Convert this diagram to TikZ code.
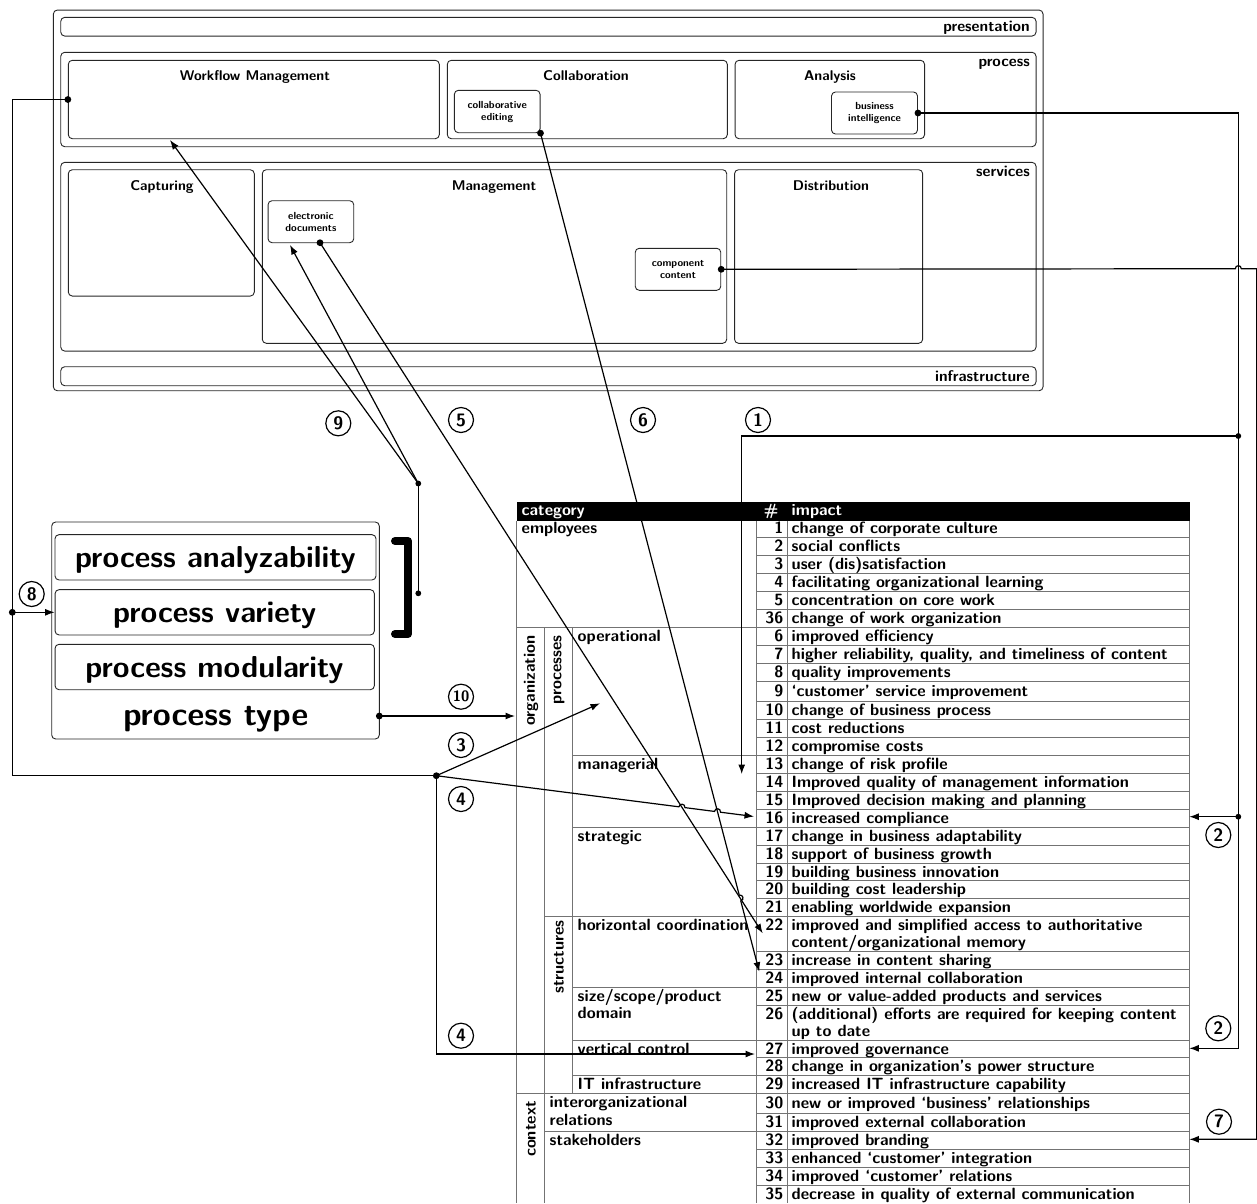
\documentclass[tikz,border=0pt]{standalone}
\usepackage{fontspec}
\usetikzlibrary{arrows.meta}
\newcommand\mytab{\fontsize{16.3}{17.5}\selectfont\sffamily\bfseries}
\newcommand\mysmall{\fontsize{10.3}{12}\selectfont\sffamily\bfseries}
\newcommand\mytitle{\fontsize{14.1}{16}\selectfont\sffamily\bfseries}
\newcommand\mylayer{\fontsize{15.4}{17}\selectfont\sffamily\bfseries}
\newcommand\mybig{\fontsize{30.3}{32}\selectfont\sffamily\bfseries}
\newcommand\myhuge{\fontsize{32.6}{34}\selectfont\sffamily\bfseries}
\begin{document}
\begin{tikzpicture}[x=1pt,y=-1pt,
 box/.style={draw=black!85, line width=0.9pt, rounded corners=4pt, inner sep=0pt},
 conn/.style={line width=1.2pt},
 arr/.style={line width=1.2pt, -{Latex[length=9.5pt,width=7pt]}},
 dotn/.style={circle, fill=black, inner sep=0pt, minimum size=6.8pt},
 numc/.style={circle, draw, line width=1.2pt, minimum size=25pt, inner sep=0pt, font=\fontsize{18}{18}\selectfont\sffamily\bfseries},
 tl/.style={draw=black!55, line width=0.8pt},
 tt/.style={inner sep=0pt, font=\mytab},
 smallbox/.style={box, minimum width=86pt, minimum height=42pt, align=center, font=\mysmall},
]
\useasboundingbox (0,0) rectangle (1257,1203);

% ---------------- architecture ----------------
\node[box, minimum width=989.7pt, minimum height=380.7pt] (outer) at (548.2,200.4) {};
\node[box, minimum width=975.3pt, minimum height=18.7pt] (pres) at (548.4,26.7) {};
\node[box, minimum width=975.3pt, minimum height=94.4pt] (proc) at (548.4,99.5) {};
\node[box, minimum width=975.3pt, minimum height=188.7pt] (serv) at (548.4,256.7) {};
\node[box, minimum width=975.3pt, minimum height=19pt] (infra) at (548.4,376.2) {};
\node[inner sep=0pt, anchor=base east, font=\mylayer] (lpres) at (1030,31) {presentation};
\node[inner sep=0pt, anchor=base east, font=\mylayer] (lproc) at (1030,66.3) {process};
\node[inner sep=0pt, anchor=base east, font=\mylayer] (lserv) at (1030,176.3) {services};
\node[inner sep=0pt, anchor=base east, font=\mylayer] (linfra) at (1030,381) {infrastructure};

\node[box, minimum width=371pt, minimum height=78.4pt] (wm) at (253.8,99.5) {};
\node[box, minimum width=280pt, minimum height=78.4pt] (collab) at (587.3,99.5) {};
\node[box, minimum width=189.5pt, minimum height=78.4pt] (anal) at (829.8,99.5) {};
\node[inner sep=0pt, anchor=base, font=\mytitle] (twm) at (255,80.5) {Workflow Management};
\node[inner sep=0pt, anchor=base, font=\mytitle] (tcol) at (586,80.5) {Collaboration};
\node[inner sep=0pt, anchor=base, font=\mytitle] (tana) at (830,80.5) {Analysis};
\node[smallbox, minimum width=85.7pt, minimum height=42.4pt] (ce) at (497.2,111.5) {collaborative\\editing};
\node[smallbox] (bi) at (874.5,113) {business\\intelligence};

\node[box, minimum width=186pt, minimum height=126.3pt] (capt) at (161.3,232.9) {};
\node[box, minimum width=464.4pt, minimum height=173.6pt] (mgmt) at (494.5,256.5) {};
\node[box, minimum width=188.1pt, minimum height=173.6pt] (dist) at (828.6,256.5) {};
\node[inner sep=0pt, anchor=base, font=\mytitle] (tcap) at (162,190) {Capturing};
\node[inner sep=0pt, anchor=base, font=\mytitle] (tmg) at (494,190) {Management};
\node[inner sep=0pt, anchor=base, font=\mytitle] (tdi) at (831,190) {Distribution};
\node[smallbox, minimum width=85.7pt] (ed) at (310.9,221.7) {electronic\\documents};
\node[smallbox, minimum width=85.5pt] (cc) at (678,269.3) {component\\content};

% ---------------- process type box ----------------
\node[box, minimum width=327.6pt, minimum height=217pt] (ptbox) at (215.5,630.5) {};
\node[box, minimum width=321pt, minimum height=45.3pt] (pabox) at (215.5,557.3) {};
\node[box, minimum width=319.3pt, minimum height=45.3pt] (pvbox) at (214.7,612.3) {};
\node[box, minimum width=319.3pt, minimum height=45.4pt] (pmbox) at (214.7,667) {};
\node[inner sep=0pt, anchor=base, font=\mybig] (pa) at (215.5,567.5) {process analyzability};
\node[inner sep=0pt, anchor=base, font=\mybig] (pv) at (214.7,622.5) {process variety};
\node[inner sep=0pt, anchor=base, font=\mybig] (pm) at (214.5,677.5) {process modularity};
\node[inner sep=0pt, anchor=base, font=\myhuge] (pt) at (215.8,725) {process type};
\draw[line width=8pt, line cap=round, line join=round] (395,541) -- (408,541) -- (408,634) -- (395,634);

% ---------------- table ----------------
\fill[black] (516.5,502.3) rectangle (1189.5,520.5);
\node[tt, anchor=base west, text=white] (hcat) at (521.5,515.5) {category};
\node[tt, anchor=base, text=white] (hnum) at (771,515.5) {\#};
\node[tt, anchor=base west, text=white] (himp) at (791.5,515.5) {impact};

\foreach \y in {537,555,573,591,609,627,645,663,681,701,719,737,755,773,791,809,827,845,863,880,898,916,951,969,987,1005,1040,1057,1075,1093,1113,1131,1149,1167,1185}
  \draw[tl] (756.5,\y) -- (1189.5,\y);
\draw[tl] (516.5,520.5) -- (516.5,1203);
\draw[tl] (544.5,627) -- (544.5,1203);
\draw[tl] (572.5,627) -- (572.5,1093);
\draw[tl] (756.5,520.5) -- (756.5,1203);
\draw[tl] (787,520.5) -- (787,1203);
\draw[tl] (1189.5,520.5) -- (1189.5,1203);
\draw[tl] (516.5,627) -- (756.5,627);
\draw[tl] (572.5,755) -- (756.5,755);
\draw[tl] (572.5,827) -- (756.5,827);
\draw[tl] (544.5,916) -- (756.5,916);
\draw[tl] (572.5,987) -- (756.5,987);
\draw[tl] (572.5,1040) -- (756.5,1040);
\draw[tl] (572.5,1075) -- (756.5,1075);
\draw[tl] (516.5,1093) -- (756.5,1093);
\draw[tl] (544.5,1131) -- (756.5,1131);

\node[tt, anchor=base west] (cemp) at (521.5,533) {employees};
\node[tt, anchor=base west] (cop) at (577.5,641) {operational};
\node[tt, anchor=base west] (cma) at (577.5,769) {managerial};
\node[tt, anchor=base west] (cst) at (577.5,841) {strategic};
\node[tt, anchor=base west] (cho) at (577.5,930) {horizontal coordination};
\node[tt, anchor=base west] (csi) at (577.5,1001) {size/scope/product};
\node[tt, anchor=base west] (csi2) at (577.5,1018.5) {domain};
\node[tt, anchor=base west] (cve) at (577.5,1054) {vertical control};
\node[tt, anchor=base west] (cit) at (577.5,1089) {IT infrastructure};
\node[tt, anchor=base west] (cin) at (549.5,1107.5) {interorganizational};
\node[tt, anchor=base west] (cin2) at (549.5,1125) {relations};
\node[tt, anchor=base west] (csk) at (549.5,1145) {stakeholders};
\node[tt, rotate=90, anchor=east] (rorg) at (531,635) {organization};
\node[tt, rotate=90, anchor=east] (rpro) at (559,635) {processes};
\node[tt, rotate=90, anchor=east] (rstr) at (559,920) {structures};
\node[tt, rotate=90, anchor=east] (rcon) at (531,1101) {context};

\foreach \n/\b/\txt in {
1/533/change of corporate culture,
2/551/social conflicts,
3/569/user (dis)satisfaction,
4/587/facilitating organizational learning,
5/605/concentration on core work,
36/623/change of work organization,
6/641/improved efficiency,
7/659/{higher reliability, quality, and timeliness of content},
8/677/quality improvements,
9/696/‘customer’ service improvement,
10/715/change of business process,
11/733/cost reductions,
12/751/compromise costs,
13/769/change of risk profile,
14/787/Improved quality of management information,
15/805/Improved decision making and planning,
16/823/increased compliance,
17/841/change in business adaptability,
18/859/support of business growth,
19/877/building business innovation,
20/894/building cost leadership,
21/912/enabling worldwide expansion,
22/930/improved and simplified access to authoritative,
23/965/increase in content sharing,
24/983/improved internal collaboration,
25/1001/new or value-added products and services,
26/1019/(additional) efforts are required for keeping content,
27/1054/improved governance,
28/1071/change in organization’s power structure,
29/1089/increased IT infrastructure capability,
30/1108/new or improved ‘business’ relationships,
31/1127/improved external collaboration,
32/1145/improved branding,
33/1163/enhanced ‘customer’ integration,
34/1181/improved ‘customer’ relations,
35/1199/decrease in quality of external communication}{
  \node[tt, anchor=base east] (num\n) at (783.5,\b) {\n};
  \node[tt, anchor=base west] (imp\n) at (791.5,\b) {\txt};
}
\node[tt, anchor=base west] (imp22b) at (791.5,947.5) {content/organizational memory};
\node[tt, anchor=base west] (imp26b) at (791.5,1036.5) {up to date};

% ---------------- connector coordinates ----------------
\coordinate (wmtip) at (170,140);
\coordinate (edtip) at (290,245);
\coordinate (eddot) at (320,242.7);
\coordinate (b9top) at (418.3,483.5);
\coordinate (b9bot) at (418.3,593.3);
\coordinate (lcol) at (12.3,775.7);
\coordinate (l8) at (12.3,612.3);
\coordinate (hub) at (436.3,775.7);
\coordinate (t3tip) at (600,703.3);
\coordinate (t16tip) at (754,816.5);
\coordinate (t27tip) at (755,1054);
\coordinate (ptdot) at (379.3,716);
\coordinate (orgtip) at (515,716);
\coordinate (t22tip) at (762.7,933.3);
\coordinate (t24tip) at (759.3,971.7);
\coordinate (rcorner) at (1238.3,1048.3);
\coordinate (r27tip) at (1189.3,1048.3);
\coordinate (r436) at (1238.3,436);
\coordinate (t13tip) at (741.7,774);
\coordinate (r817) at (1238.3,816.7);
\coordinate (r16tip) at (1189.3,816.7);
\coordinate (ccright) at (1256.7,268.7);
\coordinate (r32tip) at (1189.3,1139.3);
% hops
\coordinate (h1a) at (678.9,806.8); \coordinate (h1b) at (684.9,807.6);
\coordinate (h2a) at (714.5,811.4); \coordinate (h2b) at (720.5,812.2);
\coordinate (h3a) at (739.24,895.1); \coordinate (h3b) at (740.76,900.9);
\coordinate (h4a) at (1235.3,268.7); \coordinate (h4b) at (1241.3,268.7);

% ---------------- connectors ----------------
\draw[conn] (wm.west) -| (lcol) -- (hub);
\draw[arr] (l8) -- (pvbox.west);
\draw[arr] (hub) -- (t3tip);
\draw[arr] (hub) -- (h1a) .. controls (679.4,802.8) and (685.4,803.6) .. (h1b)
  -- (h2a) .. controls (715.0,807.4) and (721.0,808.2) .. (h2b) -- (t16tip);
\draw[arr] (hub) |- (t27tip);
\draw[arr] (ptdot) -- (orgtip);
\draw[conn] (b9bot) -- (b9top);
\draw[arr] (b9top) -- (wmtip);
\draw[arr] (b9top) -- (edtip);
\draw[arr] (eddot) -- (t22tip);
\draw[arr] (ce.south east) -- (h3a) .. controls (743.1,894.1) and (744.6,899.9) .. (h3b) -- (t24tip);
\draw[arr] (bi.east) -| (rcorner) -- (r27tip);
\draw[arr] (r436) -| (t13tip);
\draw[arr] (r817) -- (r16tip);
\draw[arr] (cc.east) -- (h4a) .. controls (1235.3,264.7) and (1241.3,264.7) .. (h4b) -- (ccright) |- (r32tip);

% dots
\node[dotn] (dwm) at (wm.west) {};
\node[dotn] (dl8) at (l8) {};
\node[dotn] (dhub) at (hub) {};
\node[dotn] (dpt) at (ptdot) {};
\node[dotn, minimum size=5.8pt] (db9t) at (b9top) {};
\node[dotn, minimum size=5.8pt] (db9b) at (b9bot) {};
\node[dotn] (ded) at (eddot) {};
\node[dotn] (dce) at (ce.south east) {};
\node[dotn] (dbi) at (bi.east) {};
\node[dotn] (dcc) at (cc.east) {};
\node[dotn, minimum size=5.8pt] (dr436) at (r436) {};
\node[dotn, minimum size=5.8pt] (dr817) at (r817) {};

% circled numbers
\node[numc] (c9) at (338.3,423.3) {9};
\node[numc] (c5) at (461,420) {5};
\node[numc] (c6) at (643,420) {6};
\node[numc] (c1) at (758,420) {1};
\node[numc] (c8) at (31.7,594) {8};
\node[numc, font=\fontsize{15}{15}\selectfont\sffamily\bfseries] (c10) at (461,696.7) {10};
\node[numc] (c3) at (461,745) {3};
\node[numc] (c4a) at (461,799) {4};
\node[numc] (c4b) at (461,1035.7) {4};
\node[numc] (c2a) at (1218.3,835) {2};
\node[numc] (c2b) at (1218.3,1028.3) {2};
\node[numc] (c7) at (1219,1121.7) {7};
\end{tikzpicture}
\end{document}
